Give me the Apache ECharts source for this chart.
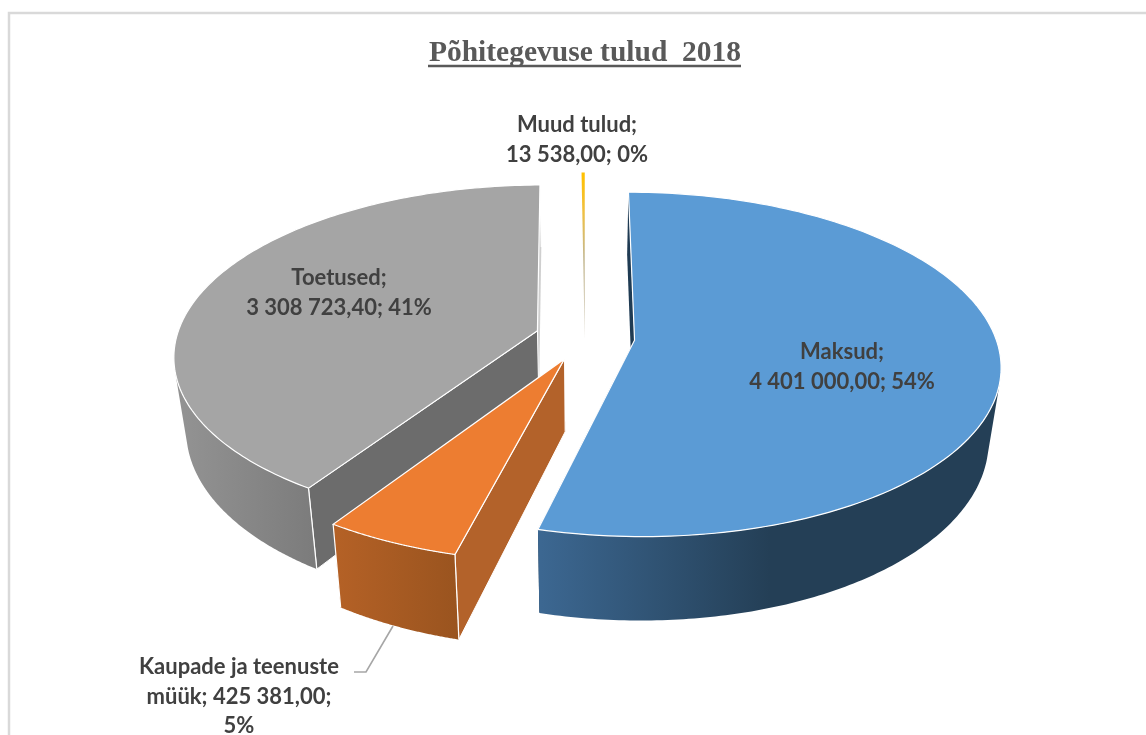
<!DOCTYPE html>
<html><head><meta charset="utf-8">
<style>html,body{margin:0;padding:0;background:#fff}#c{width:1146px;height:735px}</style>
<script src="https://cdn.jsdelivr.net/npm/echarts@6/dist/echarts.min.js"></script>
</head><body><div id="c"></div>
<script>
const categories = ['Maksud', 'Kaupade ja teenuste müük', 'Toetused', 'Muud tulud'];
const values = [4401000.00, 425381.00, 3308723.40, 13538.00];
const percents = [54, 5, 41, 0];
const titleText = 'Põhitegevuse tulud  2018';

const colors = {
  top: ['#5b9bd5', '#ed7d31', '#a5a5a5', '#ffc000'],
  startFace: ['#1f3b53', '#b3622a', '#6c6c6c', '#c9c2a8'],
  endFace: ['#1f3b53', '#b3622a', '#cfcfcf', '#a89f80']
};
const drawRank = [2, 3, 0, 1];
// projection of the exploded pie
const CX = 585, CY = 337.3, RX = 361, RY = 168, PERSP = 0.14, EXPLODE = 0.138;
const DEPTH = 71.6, SX_BOTTOM = 0.97, SY_BOTTOM = 1.062;
const wallStops = [
  {x0: 541, x1: 770, a: '#3c6791', b: '#243f56'},
  {x0: 337, x1: 457, a: '#b46126', b: '#9a541f'},
  {x0: 185, x1: 312, a: '#929292', b: '#7c7c7c'}
];
const labelLines = [
  ['Maksud;', '4 401 000,00; 54%'],
  ['Kaupade ja teenuste', 'müük; 425 381,00;', '5%'],
  ['Toetused;', '3 308 723,40; 41%'],
  ['Muud tulud;', '13 538,00; 0%']
];
const labelPos = [[842, 352], [239, 667], [339, 278], [577, 125]];

const total = values.reduce((a, b) => a + b, 0);
const starts = []; { let acc = 0; values.forEach(v => { starts.push(acc / total * 2 * Math.PI); acc += v; }); }

function project(u, v, bottom) {
  const d = 1 - PERSP * v;
  const x = RX * u / d, y = RY * v / d;
  return bottom ? [CX + SX_BOTTOM * x, CY + DEPTH + SY_BOTTOM * y] : [CX + x, CY + y];
}

function renderSlice(params) {
  const i = params.dataIndex;
  const a0 = starts[i], a1 = a0 + values[i] / total * 2 * Math.PI, mid = (a0 + a1) / 2;
  const eu = EXPLODE * Math.sin(mid), ev = -EXPLODE * Math.cos(mid);
  const rim = (a, b) => project(eu + Math.sin(a), ev - Math.cos(a), b);
  const apex = b => project(eu, ev, b);
  const z = drawRank[i] * 10;
  const children = [];
  const white = i === 1 || i === 2;
  const push = (points, style, k) => children.push({type: 'polygon', z2: z + k, shape: {points}, style});
  const face = a => [apex(false), rim(a, false), rim(a, true), apex(true)];
  const arc = (from, to, b, n) => Array.from({length: n + 1}, (_, s) => rim(from + (to - from) * s / n, b));
  // sign of the wall's facing at angle a: flips on the silhouette of the drum
  const facing = a => {
    const p = rim(a, false), q = rim(a + 0.002, false), r = rim(a, true);
    return (q[0] - p[0]) * (r[1] - p[1]) - (q[1] - p[1]) * (r[0] - p[0]);
  };
  const silhouette = dir => {
    const s0 = Math.sign(facing(Math.PI));
    let a = Math.PI;
    while (Math.abs(a - Math.PI) < Math.PI && Math.sign(facing(a + dir * 0.002)) === s0) a += dir * 0.002;
    return a;
  };

  if (i === 3) {
    // the hairline slice: top surface fading into its cut face
    const A = apex(false), B = apex(true), tip = [A[0] + (B[0] - A[0]) * 0.35, A[1] + (B[1] - A[1]) * 0.35];
    push([tip, rim(a0, false), rim(a1, false)], {
      fill: new echarts.graphic.LinearGradient(0, 175, 0, 340,
        [{offset: 0, color: '#ffc000'}, {offset: 0.22, color: '#f0c040'}, {offset: 0.5, color: '#c4b890'}, {offset: 1, color: '#cfc8b8'}], true)
    }, 5);
  } else {
    push(face(a1), {fill: colors.endFace[i]}, 1);
    push(face(a0), white ? {fill: colors.startFace[i], stroke: '#fff', lineWidth: 1} : {fill: colors.startFace[i]}, 2);
    // outer wall: only the part that faces the viewer
    const w0 = Math.max(a0, silhouette(-1)), w1 = Math.min(a1, silhouette(1));
    const g = wallStops[i];
    const grad = new echarts.graphic.LinearGradient(g.x0, 0, g.x1, 0,
      [{offset: 0, color: g.a}, {offset: 1, color: g.b}], true);
    push(arc(w0, w1, false, 120).concat(arc(w1, w0, true, 120)), {fill: grad}, 3);
    if (white) {
      [a0, a1].forEach(a => children.push({type: 'polyline', z2: z + 4,
        shape: {points: [rim(a, false), rim(a, true)]}, style: {stroke: '#fff', lineWidth: 1.2, fill: null}}));
    }
    push([apex(false)].concat(arc(a0, a1, false, 160)), {fill: colors.top[i], stroke: '#fff', lineWidth: 1.2}, 5);
  }

  labelLines[i].forEach((t, j) => children.push({type: 'text', z2: 100,
    style: {text: t, x: labelPos[i][0], y: labelPos[i][1] + j * 29.5, align: 'center', verticalAlign: 'middle',
      font: 'bold 22px Lato', fill: '#404040'}}));
  return {type: 'group', children};
}

const chart = echarts.init(document.getElementById('c'), null, {renderer: 'canvas'});
chart.setOption({
  animation: false,
  backgroundColor: '#fff',
  title: {text: titleText, left: 580, top: 33, textAlign: 'center',
    textStyle: {fontFamily: 'Liberation Serif', fontWeight: 'bold', fontSize: 29.5, color: '#595959'}},
  graphic: [
    {type: 'polyline', silent: true, shape: {points: [[9, 735], [9, 13], [1146, 13]]},
     style: {stroke: '#d9d9d9', lineWidth: 2.5, fill: null}},
    {type: 'line', silent: true, shape: {x1: 428, y1: 66, x2: 741, y2: 66}, style: {stroke: '#595959', lineWidth: 2.4}},
    {type: 'polyline', silent: true, shape: {points: [[393, 626], [366, 672], [354, 672]]},
     style: {stroke: '#a6a6a6', lineWidth: 1.6, fill: null}}
  ],
  series: [{
    type: 'custom', coordinateSystem: 'none', silent: true,
    data: values.map((v, i) => ({name: categories[i], value: v})),
    renderItem: renderSlice
  }]
});
</script></body></html>
